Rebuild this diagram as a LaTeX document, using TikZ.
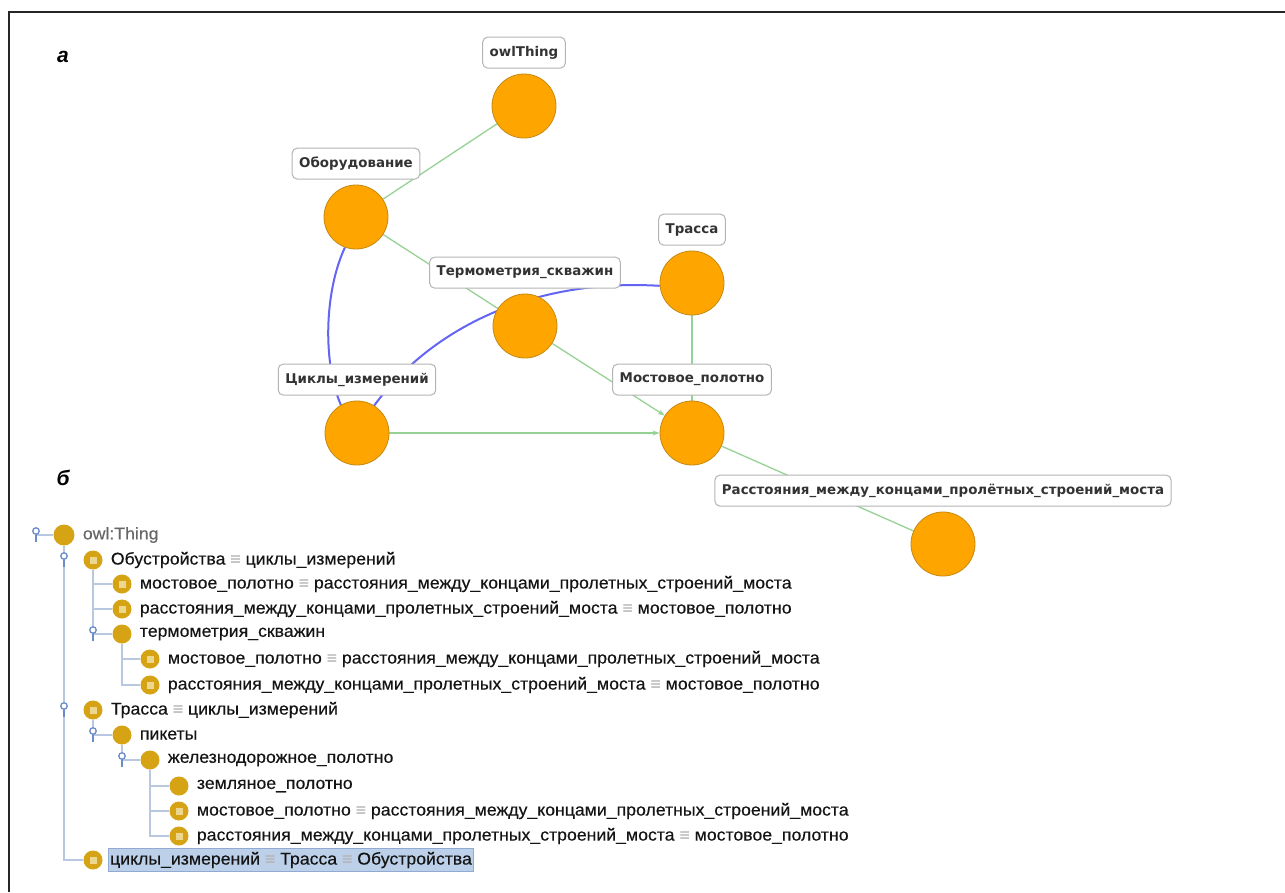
\documentclass[tikz,border=0pt]{standalone}
\usepackage{fontspec}
\setmainfont{Liberation Sans}
\newfontfamily\graffont{DejaVu Sans}
\newfontfamily\treefont[FakeStretch=1.04,FakeBold=0.4]{Liberation Sans}
\usetikzlibrary{positioning,backgrounds,arrows.meta}

% colours
\definecolor{vertfill}{HTML}{FFA500}
\definecolor{vertline}{HTML}{C48A12}
\definecolor{isagreen}{HTML}{96D296}
\definecolor{relblue}{HTML}{6464F5}
\definecolor{boxline}{HTML}{B4B4B4}
\definecolor{icongold}{HTML}{D6A314}
\definecolor{iconsq}{HTML}{EDD78F}
\definecolor{treeline}{HTML}{B7C8E0}
\definecolor{togglebl}{HTML}{6A8CC8}
\definecolor{eqgray}{HTML}{B4B4B4}
\definecolor{selfill}{HTML}{BCD0EA}
\definecolor{selline}{HTML}{90AAD2}

\newcommand{\eqv}{ {\color{eqgray}≡} }

\tikzset{
  vert/.style={circle, fill=vertfill, draw=vertline, line width=0.8pt,
    minimum size=64pt, inner sep=0pt},
  vlabel/.style={rectangle, rounded corners=5pt, draw=boxline, fill=white,
    line width=1pt, inner xsep=7pt, minimum height=31pt,
    font=\graffont\bfseries\fontsize{13.4}{15}\selectfont, text=black!80},
  isa/.style={draw=isagreen, line width=1.3pt},
  rel/.style={draw=relblue, line width=2pt},
  tcls/.style={circle, fill=icongold, minimum size=19pt, inner sep=0pt},
  teqv/.style={tcls, path picture={\fill[iconsq]
    ([shift={(-3.5pt,-3.5pt)}]path picture bounding box.center) rectangle ++(7pt,7pt);}},
  ttext/.style={anchor=west, inner sep=1pt, font=\treefont\fontsize{17}{20}\selectfont, text=black!92},
  tline/.style={draw=treeline, line width=1.2pt},
  tgl/.style={circle, draw=togglebl, fill=white, line width=1.3pt, minimum size=6.5pt,
    inner sep=0pt,
    append after command={(\tikzlastnode.south) edge[togglebl, line width=1.3pt] ++(0pt,-7pt)}},
  panel/.style={font=\bfseries\itshape\fontsize{21}{24}\selectfont}
}

\begin{document}
\begin{tikzpicture}[x=1pt,y=-1pt]
  \begin{pgfonlayer}{background}
    \fill[white] (0,0) rectangle (1285,892);
  \end{pgfonlayer}
  \useasboundingbox (0,0) rectangle (1285,892);
  % рамка
  \draw[black!85, line width=2pt] (9,892) -- (9,12) -- (1285,12);
  % подписи частей
  \node[panel] (pa) at (63,57) {а};
  \node[panel] (pb) at (63,478) {б};

  % ---------- граф (а) ----------
  \node[vert] (owlthing) at (524,106) {};
  \node[vert] (oborud) at (356,217) {};
  \node[vert] (trassa) at (692,283) {};
  \node[vert] (termo) at (525,326) {};
  \node[vert] (cikly) at (357,433) {};
  \node[vert] (most) at (692,433) {};
  \node[vert] (rasst) at (943,544) {};
  % подписи вершин
  \node[vlabel, above=5pt of owlthing] (owlthingL) {owlThing};
  \node[vlabel, above=5pt of oborud] (oborudL) {Оборудование};
  \node[vlabel, above=5pt of trassa] (trassaL) {Трасса};
  \node[vlabel, above=5pt of termo] (termoL) {Термометрия\_скважин};
  \node[vlabel, above=5pt of cikly] (ciklyL) {Циклы\_измерений};
  \node[vlabel, above=5pt of most] (mostL) {Мостовое\_полотно};
  \node[vlabel, above=5pt of rasst] (rasstL) {Расстояния\_между\_концами\_пролётных\_строений\_моста};

  \begin{pgfonlayer}{background}
    % связи подклассов
    \draw[isa] (oborud) -- (owlthing);
    \draw[isa] (oborud) -- (termo);
    \draw[isa] (trassa) -- (most);
    \draw[isa] (most) -- (rasst);
    \draw[isa, -{Stealth[length=7pt,width=5pt]}] (termo) -- (most);
    \draw[isa, -{Stealth[length=7pt,width=5pt]}] (cikly) -- (most);
    % связи эквивалентности
    \draw[rel] (oborud.250) .. controls (325,290) and (322,360) .. (cikly.120);
    \draw[rel] (cikly.58) .. controls (430,330) and (530,278) .. (trassa.185);
  \end{pgfonlayer}

  % ---------- дерево классов (б) ----------
  \node[tcls, minimum size=21pt] (i0) at (64,535) {};
  \node[ttext, text=black!60, right=7pt of i0] (x0) {owl:Thing};
  \node[teqv] (i1) at (93,560) {};
  \node[ttext, right=7pt of i1] (x1) {Обустройства\eqv циклы\_измерений};
  \node[teqv] (i2) at (122,584) {};
  \node[ttext, right=7pt of i2] (x2) {мостовое\_полотно\eqv расстояния\_между\_концами\_пролетных\_строений\_моста};
  \node[teqv] (i3) at (122,609) {};
  \node[ttext, right=7pt of i3] (x3) {расстояния\_между\_концами\_пролетных\_строений\_моста\eqv мостовое\_полотно};
  \node[tcls] (i4) at (122,634) {};
  \node[ttext, right=7pt of i4] (x4) {термометрия\_скважин};
  \node[teqv] (i5) at (150,659) {};
  \node[ttext, right=7pt of i5] (x5) {мостовое\_полотно\eqv расстояния\_между\_концами\_пролетных\_строений\_моста};
  \node[teqv] (i6) at (150,685) {};
  \node[ttext, right=7pt of i6] (x6) {расстояния\_между\_концами\_пролетных\_строений\_моста\eqv мостовое\_полотно};
  \node[teqv] (i7) at (93,710) {};
  \node[ttext, right=7pt of i7] (x7) {Трасса\eqv циклы\_измерений};
  \node[tcls] (i8) at (122,735) {};
  \node[ttext, right=7pt of i8] (x8) {пикеты};
  \node[tcls] (i9) at (150,760) {};
  \node[ttext, right=7pt of i9] (x9) {железнодорожное\_полотно};
  \node[tcls] (i10) at (179,786) {};
  \node[ttext, right=7pt of i10] (x10) {земляное\_полотно};
  \node[teqv] (i11) at (179,811) {};
  \node[ttext, right=7pt of i11] (x11) {мостовое\_полотно\eqv расстояния\_между\_концами\_пролетных\_строений\_моста};
  \node[teqv] (i12) at (179,836) {};
  \node[ttext, right=7pt of i12] (x12) {расстояния\_между\_концами\_пролетных\_строений\_моста\eqv мостовое\_полотно};
  \node[teqv] (i13) at (93,860) {};
  \node[ttext, right=5pt of i13, fill=selfill, draw=selline, line width=0.8pt,
    minimum height=23pt, inner xsep=2pt] (x13) {циклы\_измерений\eqv Трасса\eqv Обустройства};

  % линии дерева
  \begin{pgfonlayer}{background}
    \draw[tline] (36,535) -- (i0);
    \draw[tline] (i0.south) |- (i13.west);
    \draw[tline] (i1.south) |- (i4.west);
    \draw[tline] (i1 |- i2) -- (i2);
    \draw[tline] (i1 |- i3) -- (i3);
    \draw[tline] (i4.south) |- (i6.west);
    \draw[tline] (i4 |- i5) -- (i5);
    \draw[tline] (i7.south) |- (i8.west);
    \draw[tline] (i8.south) |- (i9.west);
    \draw[tline] (i9.south) |- (i12.west);
    \draw[tline] (i9 |- i10) -- (i10);
    \draw[tline] (i9 |- i11) -- (i11);
  \end{pgfonlayer}
  % переключатели
  \node[tgl] (t0) at (36,531) {};
  \node[tgl] (t1) at (64,556) {};
  \node[tgl] (t4) at (93,630) {};
  \node[tgl] (t7) at (64,706) {};
  \node[tgl] (t8) at (93,731) {};
  \node[tgl] (t9) at (122,756) {};
\end{tikzpicture}
\end{document}
